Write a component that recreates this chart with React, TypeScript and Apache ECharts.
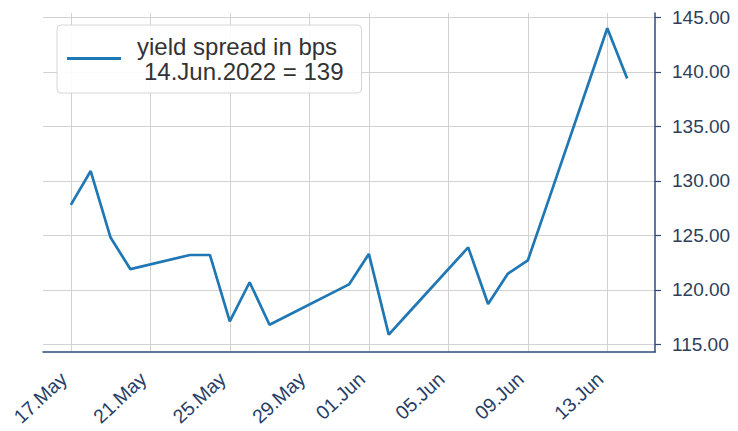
import React, { useEffect, useRef } from 'react';
import * as echarts from 'echarts';

// Business days shown in the chart
const dates = [
  '2022-05-17', '2022-05-18', '2022-05-19', '2022-05-20',
  '2022-05-23', '2022-05-24', '2022-05-25', '2022-05-26', '2022-05-27',
  '2022-05-31', '2022-06-01', '2022-06-02', '2022-06-03',
  '2022-06-06', '2022-06-07', '2022-06-08', '2022-06-09', '2022-06-10',
  '2022-06-13', '2022-06-14',
];
// Yield spread in basis points
const spread = [
  127.8, 130.9, 124.8, 121.9,
  123.2, 123.2, 117.1, 120.7, 116.8,
  120.5, 123.3, 115.9, 117.9,
  123.9, 118.7, 121.5, 122.7, 128.0,
  144.0, 139.4,
];
const xTickDates = ['2022-05-17', '2022-05-21', '2022-05-25', '2022-05-29', '2022-06-01', '2022-06-05', '2022-06-09', '2022-06-13'];
const yTicks = [115, 120, 125, 130, 135, 140, 145];
const seriesName = 'yield spread in bps';
const legendNote = '14.Jun.2022 = 139';
const monthNames = ['Jan', 'Feb', 'Mar', 'Apr', 'May', 'Jun', 'Jul', 'Aug', 'Sep', 'Oct', 'Nov', 'Dec'];

const DAY = 86400000;
const ts = (s: string) => {
  const [y, m, d] = s.split('-').map(Number);
  return Date.UTC(y, m - 1, d);
};

const FONT = '"Liberation Sans", Arial, Helvetica, sans-serif';
const AXIS_COLOR = '#2f4b7c';
const GRID_COLOR = '#d2d2d2';
const LINE_COLOR = '#1f77b4';

export default function App() {
  const ref = useRef<HTMLDivElement>(null);

  useEffect(() => {
    if (!ref.current) return;
    const chart = echarts.init(ref.current, null, { renderer: 'svg' });
    const xTickVals = xTickDates.map(ts);
    const option: any = {
      animation: false,
      backgroundColor: '#ffffff',
      textStyle: { fontFamily: FONT },
      grid: { left: 43, right: 83, top: 13, bottom: 79 },
      legend: {
        show: true,
        left: 57,
        top: 25,
        orient: 'vertical',
        padding: [9, 18, 10, 10],
        backgroundColor: 'rgba(255,255,255,0.9)',
        borderColor: '#d6d6d6',
        borderWidth: 1,
        borderRadius: 4,
        icon: 'rect',
        itemWidth: 54,
        itemHeight: 3,
        data: [seriesName],
        formatter: (name: string) => `{a|${name}}\n{b|${legendNote}}`,
        textStyle: {
          fontFamily: FONT,
          color: '#333333',
          fontSize: 24,
          rich: {
            a: { fontFamily: FONT, fontSize: 24, color: '#333333', lineHeight: 25, padding: [0, 0, 0, 11] },
            b: { fontFamily: FONT, fontSize: 24, color: '#333333', lineHeight: 25, padding: [0, 0, 0, 18] },
          },
        },
      },
      xAxis: {
        type: 'value',
        min: ts(dates[0]) - 1.4 * DAY,
        max: ts(dates[dates.length - 1]) + 1.4 * DAY,
        axisLine: { show: true, onZero: false, lineStyle: { color: AXIS_COLOR, width: 1.5 } },
        axisTick: { show: false, customValues: xTickVals },
        axisLabel: {
          customValues: xTickVals,
          rotate: 43,
          margin: 17,
          padding: [0, 10, 0, 0],
          fontSize: 19.5,
          fontFamily: FONT,
          color: '#263d66',
          formatter: (v: number) => {
            const d = new Date(v);
            const dd = String(d.getUTCDate()).padStart(2, '0');
            return `${dd}.${monthNames[d.getUTCMonth()]}`;
          },
        },
        splitLine: { show: true, lineStyle: { color: GRID_COLOR, width: 1 } },
      },
      yAxis: {
        type: 'value',
        position: 'right',
        min: 114.3,
        max: 145.4,
        axisLine: { show: true, onZero: false, lineStyle: { color: AXIS_COLOR, width: 1.5 } },
        axisTick: { show: true, length: 6, customValues: yTicks, lineStyle: { color: AXIS_COLOR, width: 1.2 } },
        axisLabel: {
          customValues: yTicks,
          margin: 17,
          fontSize: 19,
          fontFamily: FONT,
          color: '#2e3e5c',
          formatter: (v: number) => v.toFixed(2),
        },
        splitLine: { show: true, lineStyle: { color: GRID_COLOR, width: 1 } },
      },
      series: [
        {
          name: seriesName,
          type: 'line',
          data: dates.map((d, i) => [ts(d), spread[i]]),
          symbol: 'none',
          showSymbol: false,
          lineStyle: { color: LINE_COLOR, width: 2.7 },
          itemStyle: { color: LINE_COLOR },
        },
      ],
    };
    chart.setOption(option);
    return () => chart.dispose();
  }, []);

  return (
    <div
      ref={ref}
      style={{ position: 'fixed', left: 0, top: 0, width: 738, height: 431 }}
    />
  );
}
